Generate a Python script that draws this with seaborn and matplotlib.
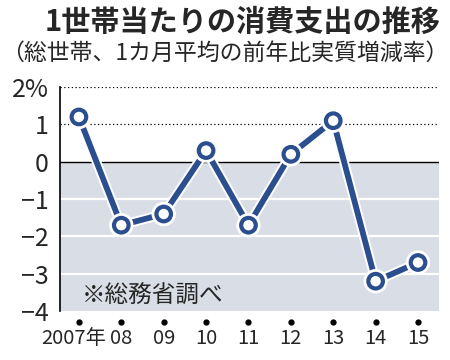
import matplotlib
matplotlib.use("Agg")
import matplotlib.pyplot as plt
import matplotlib.patheffects as pe
import matplotlib.transforms as mtransforms
import seaborn as sns
import pandas as pd

# data
years = ["2007年", "08", "09", "10", "11", "12", "13", "14", "15"]
change = [1.2, -1.7, -1.4, 0.3, -1.7, 0.2, 1.1, -3.2, -2.7]
y_ticks = [-4, -3, -2, -1, 0, 1, 2]
y_labels = ["−4", "−3", "−2", "−1", "0", "1", "2%"]

TITLE = "1世帯当たりの消費支出の推移"
SUBTITLE = "（総世帯、1カ月平均の前年比実質増減率）"
SOURCE = "※総務省調べ"

BLUE = "#2B4E8E"
GRAY = "#D9DDE5"

sns.set_style("white")
plt.rcParams["font.family"] = ["Noto Sans CJK JP", "DejaVu Sans"]

df = pd.DataFrame({"idx": range(len(years)), "change": change})

fig = plt.figure(figsize=(4.5, 3.6), dpi=100)
ax = fig.add_axes([0.133, 0.136, 0.843, 0.622])

# background bands
ax.axhspan(-4, 0, color=GRAY, zorder=0, lw=0)
for v in [-1, -2, -3]:
    ax.axhline(v, color="white", lw=1.6, zorder=1)
for v in [1, 2]:
    ax.axhline(v, color="black", lw=0.9, ls=(0, (1, 2)), zorder=1)
ax.axhline(0, color="black", lw=1.0, zorder=1)

sns.lineplot(data=df, x="idx", y="change", ax=ax, color=BLUE, lw=4.2,
             marker="o", markersize=10.5, markerfacecolor="white",
             markeredgecolor=BLUE, markeredgewidth=3, zorder=3,
             path_effects=[pe.Stroke(linewidth=7, foreground="white"), pe.Normal()])

ax.set_xlim(-0.45, len(years) - 0.5)
ax.set_ylim(-4, 2)
ax.set_xlabel("")
ax.set_ylabel("")

ax.set_yticks(y_ticks)
ax.set_yticklabels(y_labels, fontsize=18)
ax.tick_params(axis="y", direction="out", length=5, width=1, color="black", pad=3)

ax.set_xticks(df["idx"])
ax.set_xticklabels(years, fontsize=14.5)
ax.tick_params(axis="x", length=0, pad=12)
# the first label carries 年, nudge it left a little like the original
first = ax.get_xticklabels()[0]
first.set_transform(first.get_transform() + mtransforms.ScaledTranslation(-4 / 72, 0, fig.dpi_scale_trans))

# small dots above the year labels
trans = mtransforms.blended_transform_factory(ax.transData, ax.transAxes)
ax.plot(df["idx"], [-0.05] * len(years), "o", color="black", ms=3.5,
        transform=trans, clip_on=False)

for s in ["top", "right", "bottom"]:
    ax.spines[s].set_visible(False)
ax.spines["left"].set_color("black")
ax.spines["left"].set_linewidth(1.2)

ax.text(0.058, 0.07, SOURCE, transform=ax.transAxes, fontsize=17,
        ha="left", va="center")

fig.text(0.978, 0.938, TITLE, fontsize=21, fontweight="bold", ha="right", va="center")
fig.text(0.5, 0.853, SUBTITLE, fontsize=16.5, ha="center", va="center")

fig.savefig("out.png", dpi=100, facecolor="white")
